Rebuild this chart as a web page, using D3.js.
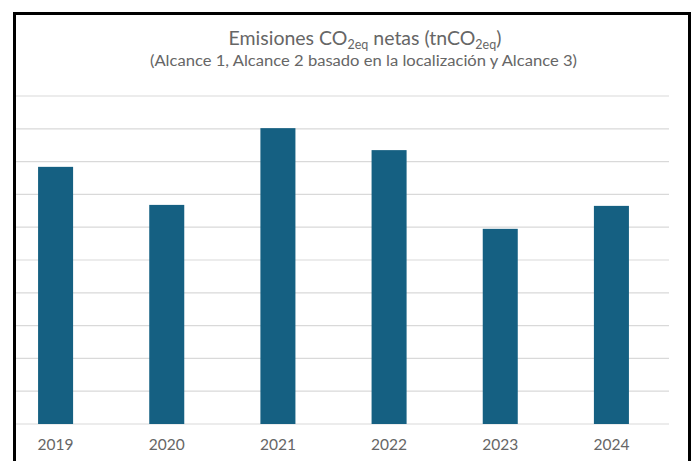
<!DOCTYPE html>
<html>
<head>
<meta charset="utf-8">
<script src="https://cdn.jsdelivr.net/npm/d3@7"></script>
<style>
  body { margin: 0; background: #fff; }
  svg { display: block; }
</style>
</head>
<body>
<div id="chart"></div>
<script>
const years = ["2019", "2020", "2021", "2022", "2023", "2024"];
const emissions = [7840, 6680, 9020, 8350, 5950, 6650];
const gridTicks = d3.range(0, 10001, 1000);

const W = 696, H = 461;
const svg = d3.select("#chart").append("svg")
  .attr("width", W)
  .attr("height", H);

const plot = { left: 0, right: 667, top: 96, bottom: 424 };
const font = "Lato, 'Open Sans', sans-serif";

const x = d3.scaleBand()
  .domain(years)
  .range([plot.left, plot.right])
  .paddingInner(0.685)
  .paddingOuter(0.3425);

const y = d3.scaleLinear()
  .domain([0, 10000])
  .range([plot.bottom, plot.top]);

// gridlines
svg.append("g")
  .selectAll("line")
  .data(gridTicks)
  .enter().append("line")
  .attr("x1", 16)
  .attr("x2", 669)
  .attr("y1", d => y(d))
  .attr("y2", d => y(d))
  .style("stroke", "#d9d9d9")
  .style("stroke-width", "1.2px");

// bars
svg.append("g")
  .selectAll("rect")
  .data(emissions)
  .enter().append("rect")
  .attr("x", (d, i) => x(years[i]))
  .attr("width", x.bandwidth())
  .attr("y", d => y(d))
  .attr("height", d => y(0) - y(d))
  .style("fill", "#156082");

// x axis labels
const xAxis = svg.append("g")
  .attr("transform", `translate(0, ${plot.bottom})`)
  .call(d3.axisBottom(x).tickSize(0).tickPadding(15));
xAxis.select(".domain").remove();
xAxis.selectAll("text")
  .style("font-family", font)
  .style("font-size", "15.5px")
  .style("fill", "#666");

// title
const title = svg.append("text")
  .attr("x", 365)
  .attr("y", 45)
  .attr("text-anchor", "middle")
  .style("font-family", font)
  .style("font-size", "19.5px")
  .style("fill", "#666");
title.append("tspan").text("Emisiones CO");
title.append("tspan").attr("dy", 4).style("font-size", "12.5px").text("2eq");
title.append("tspan").attr("dy", -4).text(" netas (tnCO");
title.append("tspan").attr("dy", 4).style("font-size", "12.5px").text("2eq");
title.append("tspan").attr("dy", -4).text(")");

svg.append("text")
  .attr("x", 363.5)
  .attr("y", 66)
  .attr("text-anchor", "middle")
  .attr("textLength", 427)
  .attr("lengthAdjust", "spacingAndGlyphs")
  .style("font-family", font)
  .style("font-size", "15.5px")
  .style("fill", "#666")
  .text("(Alcance 1, Alcance 2 basado en la localización y Alcance 3)");

// frame
svg.append("rect")
  .attr("x", 14.5)
  .attr("y", 13.5)
  .attr("width", 675)
  .attr("height", 470)
  .style("fill", "none")
  .style("stroke", "#000")
  .style("stroke-width", "3px");
</script>
</body>
</html>
